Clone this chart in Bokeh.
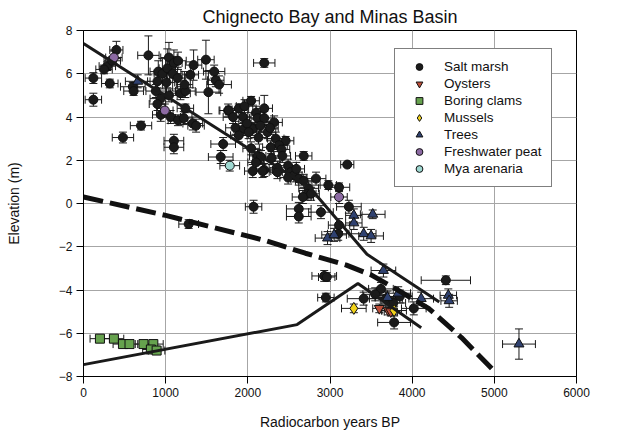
from bokeh.plotting import figure
from bokeh.models import (Whisker, ColumnDataSource, Legend, LegendItem, TeeHead,
                          FixedTicker, Range1d)
from bokeh.embed import file_html
from bokeh.resources import INLINE

# ---------------- data ----------------
# Salt marsh
sm_x = [120, 120, 320, 290, 350, 400, 250, 480, 700, 600, 610, 790, 880, 900, 910, 960, 1020,
        1040, 1085, 1100, 1145, 1150, 940, 1040, 1180, 1240, 900, 940, 1060, 1150, 1240, 1330,
        1370, 1340, 1490, 1590, 1610, 1520, 1650, 1760, 1220, 1100, 1100, 1280, 2200,
        2040, 2200, 1770, 1890, 2100, 1820, 1940, 2120, 2200, 2320, 1850, 1950, 2060, 2240,
        1890, 2130, 2340, 2460, 2380, 2280, 1700, 1670, 2040, 2120, 2160, 2100, 2060, 2200,
        2360, 2490, 2680, 2980, 2520, 2560, 2620, 2680, 2830, 2490, 2740, 2730, 2180, 2360,
        3110, 2670, 2770, 2070, 2620, 2620, 2890, 3230, 3110, 3100, 3210,
        2930, 2960, 2950, 3620, 3410, 3680, 3770, 4410, 4020, 3780, 3550, 3850,
        1990, 2010, 2150, 2270, 2410, 2290, 2420, 2590, 1960, 1230, 1010, 1300]
sm_y = [4.8, 5.8, 5.55, 6.35, 6.6, 7.1, 6.2, 3.05, 3.6, 5.4, 5.2, 6.85, 5.2, 5.65, 6.1, 6.0, 6.25,
        6.75, 6.0, 6.5, 5.8, 6.6, 4.85, 5.0, 5.1, 5.2, 4.6, 4.1, 4.0, 3.85, 4.4, 3.7,
        3.6, 6.4, 6.65, 6.1, 5.7, 5.15, 5.5, 4.3, 3.95, 2.9, 2.6, -0.95, 6.5,
        4.75, 4.4, 4.3, 4.4, 4.2, 4.0, 4.0, 3.95, 3.95, 3.75, 3.5, 3.45, 3.45, 3.3,
        3.15, 3.05, 3.0, 2.9, 2.7, 2.6, 2.75, 2.15, 2.55, 2.2, 2.15, 1.9, 1.5, 1.55,
        1.65, 1.75, 2.2, 0.85, 1.45, 1.3, 1.15, 1.05, 1.15, 1.2, 0.7, 0.45, 1.5, 1.45,
        0.75, 0.3, 0.45, -0.15, -0.25, -0.6, -0.4, -0.15, -1.0, -1.4, 1.8,
        -3.35, -3.4, -4.35, -3.95, -4.4, -4.4, -4.6, -3.55, -4.85, -5.5, -4.2, -4.3,
        3.7, 3.3, 3.6, 3.5, 2.5, 2.1, 2.2, 1.6, 4.5, 5.5, 5.6, 5.95]
sm_xerr = [100, 100, 100, 100, 100, 80, 100, 130, 130, 150, 120, 130, 120, 120, 100, 100, 100,
           100, 100, 100, 100, 100, 130, 100, 120, 120, 100, 100, 120, 120, 100, 120,
           100, 100, 100, 130, 100, 150, 150, 100, 100, 120, 120, 120, 130,
           100, 100, 120, 120, 100, 120, 100, 100, 100, 100, 120, 120, 100, 100,
           100, 100, 100, 100, 100, 100, 150, 150, 100, 100, 100, 100, 100, 100,
           100, 100, 100, 100, 100, 100, 100, 100, 120, 100, 120, 100, 100, 100,
           130, 130, 100, 100, 150, 150, 150, 150, 130, 130, 80,
           150, 100, 100, 150, 200, 200, 150, 300, 150, 200, 150, 150,
           100, 100, 100, 100, 100, 100, 100, 100, 100, 100, 100, 100]
sm_yerr = [0.3, 0.25, 0.2, 0.2, 0.2, 0.4, 0.2, 0.25, 0.2, 0.2, 0.2, 0.9, 0.3, 0.3, 0.5, 0.7, 0.9,
           0.7, 0.8, 0.6, 0.5, 0.4, 0.25, 0.3, 0.3, 0.3, 0.3, 0.3, 0.3, 0.25, 0.2, 0.3,
           0.3, 0.7, 0.9, 0.3, 0.3, 1.0, 0.4, 0.3, 0.3, 0.3, 0.3, 0.2, 0.2,
           0.2, 0.6, 0.2, 0.2, 0.3, 0.3, 0.3, 0.3, 0.3, 0.3, 0.3, 0.3, 0.3, 0.3,
           0.3, 0.3, 0.3, 0.2, 0.3, 0.3, 0.3, 0.3, 0.3, 0.3, 0.3, 0.3, 0.3, 0.3,
           0.3, 0.3, 0.2, 0.2, 0.3, 0.3, 0.3, 0.3, 0.3, 0.3, 0.3, 0.3, 0.3, 0.3,
           0.2, 0.3, 0.3, 0.3, 0.3, 0.3, 0.3, 0.3, 0.3, 0.3, 0.1,
           0.25, 0.2, 0.2, 0.3, 0.3, 0.3, 0.3, 0.2, 0.3, 0.3, 0.3, 0.3,
           0.3, 0.3, 0.3, 0.3, 0.3, 0.3, 0.3, 0.3, 0.3, 0.6, 0.5, 0.6]

# Oysters
oy_x = [3600, 3710, 3740]
oy_y = [-4.85, -4.95, -5.0]
oy_xerr = [80, 80, 80]
oy_yerr = [0.2, 0.2, 0.2]

# Boring clams
bc_x = [200, 370, 480, 560, 730, 850, 820, 890]
bc_y = [-6.25, -6.25, -6.5, -6.5, -6.5, -6.5, -6.75, -6.8]
bc_xerr = [120, 120, 120, 100, 100, 120, 100, 100]
bc_yerr = [0.15, 0.15, 0.15, 0.15, 0.15, 0.15, 0.15, 0.15]

# Mussels
mu_x = [3290, 3780]
mu_y = [-4.85, -4.95]
mu_xerr = [150, 150]
mu_yerr = [0.2, 0.2]

# Trees
tr_x = [660, 3290, 3290, 3520, 2970, 3050, 3410, 3500, 3650, 3700, 3830, 4110, 4440, 4450, 5300]
tr_y = [5.65, -0.55, -0.9, -0.5, -1.6, -1.45, -1.4, -1.5, -3.1, -4.35, -4.15, -4.4, -4.25, -4.5, -6.5]
tr_xerr = [150, 100, 100, 150, 150, 150, 150, 150, 150, 150, 150, 150, 100, 100, 200]
tr_yerr = [0.3, 0.3, 0.3, 0.2, 0.3, 0.3, 0.3, 0.3, 0.3, 0.3, 0.3, 0.3, 0.3, 0.3, 0.7]

# Freshwater peat
fp_x = [370, 990, 3110]
fp_y = [6.75, 4.3, 0.3]
fp_xerr = [100, 100, 100]
fp_yerr = [0.3, 0.3, 0.3]

# Mya arenaria
my_x = [1780]
my_y = [1.75]
my_xerr = [120]
my_yerr = [0.25]

# Curves
upper_x = [0, 2750, 3450, 4330]
upper_y = [7.4, 0.75, -2.35, -4.55]
dashed_x = [0, 1000, 2200, 2700, 3200, 3500, 3800, 4200, 4600, 5000]
dashed_y = [0.3, -0.55, -1.7, -2.3, -2.85, -3.3, -3.95, -4.85, -6.2, -7.75]
lower_x = [0, 2600, 3340, 4110]
lower_y = [-7.45, -5.6, -3.7, -5.75]

x_ticks = [0, 1000, 2000, 3000, 4000, 5000, 6000]
y_ticks = [-8, -6, -4, -2, 0, 2, 4, 6, 8]

FONT = "Liberation Sans"

# ---------------- figure ----------------
p = figure(width=630, height=432, x_range=Range1d(0, 6000), y_range=Range1d(-8, 8),
           output_backend="svg", toolbar_location=None,
           min_border_left=83, min_border_right=54, min_border_top=29, min_border_bottom=56,
           background_fill_color="white", border_fill_color="white")

p.title.text = "Chignecto Bay and Minas Basin"
p.title.align = "center"
p.title.text_font = FONT
p.title.text_font_size = "18px"
p.title.text_font_style = "normal"
p.title.text_color = "#111111"
p.title.standoff = 8

p.outline_line_color = "black"
p.outline_line_width = 1

for ax in (p.xaxis[0], p.yaxis[0]):
    ax.axis_line_color = "black"
    ax.major_tick_line_color = "black"
    ax.major_tick_out = 7
    ax.major_tick_in = 0
    ax.minor_tick_line_color = None
    ax.major_label_text_font = FONT
    ax.major_label_text_font_size = "12px"
    ax.major_label_text_color = "#111111"
    ax.axis_label_text_font = FONT
    ax.axis_label_text_font_size = "14px"
    ax.axis_label_text_font_style = "normal"
    ax.axis_label_text_color = "#111111"

p.xaxis.ticker = FixedTicker(ticks=x_ticks)
p.yaxis.ticker = FixedTicker(ticks=y_ticks)
p.xaxis.axis_label = "Radiocarbon years BP"
p.yaxis.axis_label = "Elevation (m)"
p.xaxis.major_label_standoff = 4
p.yaxis.major_label_standoff = 4
p.xaxis.axis_label_standoff = 14
p.yaxis.axis_label_standoff = 34

p.xgrid.grid_line_color = "#a6a6a6"
p.ygrid.grid_line_color = "#a6a6a6"
p.xgrid.ticker = FixedTicker(ticks=x_ticks)
p.ygrid.ticker = FixedTicker(ticks=y_ticks)

series = [
    ("Salt marsh", sm_x, sm_y, sm_xerr, sm_yerr, "circle", "#1b1b1b", 9),
    ("Oysters", oy_x, oy_y, oy_xerr, oy_yerr, "inverted_triangle", "#c0503a", 10),
    ("Boring clams", bc_x, bc_y, bc_xerr, bc_yerr, "square", "#66a24e", 9),
    ("Mussels", mu_x, mu_y, mu_xerr, mu_yerr, "diamond", "#f2d31b", 12),
    ("Trees", tr_x, tr_y, tr_xerr, tr_yerr, "triangle", "#2f4170", 10),
    ("Freshwater peat", fp_x, fp_y, fp_xerr, fp_yerr, "circle", "#8c6aa3", 9),
    ("Mya arenaria", my_x, my_y, my_xerr, my_yerr, "circle", "#9fd9d2", 9),
]

# error bars first
for name, xs, ys, xe, ye, marker, color, size in series:
    src = ColumnDataSource(dict(
        x=xs, y=ys,
        xlo=[a - b for a, b in zip(xs, xe)], xhi=[a + b for a, b in zip(xs, xe)],
        ylo=[a - b for a, b in zip(ys, ye)], yhi=[a + b for a, b in zip(ys, ye)]))
    wv = Whisker(base="x", lower="ylo", upper="yhi", dimension="height", source=src,
                 line_color="#1a1a1a", line_width=1,
                 upper_head=TeeHead(size=8, line_color="#1a1a1a", line_width=1),
                 lower_head=TeeHead(size=8, line_color="#1a1a1a", line_width=1))
    wh = Whisker(base="y", lower="xlo", upper="xhi", dimension="width", source=src,
                 line_color="#1a1a1a", line_width=1,
                 upper_head=TeeHead(size=8, line_color="#1a1a1a", line_width=1),
                 lower_head=TeeHead(size=8, line_color="#1a1a1a", line_width=1))
    p.add_layout(wv)
    p.add_layout(wh)

items = []
for name, xs, ys, xe, ye, marker, color, size in series:
    r = p.scatter(xs, ys, marker=marker, size=size, fill_color=color,
                  line_color="#111111", line_width=1)
    items.append(LegendItem(label=name, renderers=[r]))

# curves
p.line(upper_x, upper_y, line_color="#1a1a1a", line_width=3)
p.line(lower_x, lower_y, line_color="#1a1a1a", line_width=3)
p.line(dashed_x, dashed_y, line_color="#111111", line_width=5, line_dash="20 7")

legend = Legend(items=items, location=(311, 189), orientation="vertical",
                border_line_color="black", border_line_width=1,
                background_fill_color="white", background_fill_alpha=1,
                label_text_font=FONT, label_text_font_size="13.5px", label_text_color="#111111",
                glyph_width=30, glyph_height=17, label_height=17, spacing=0,
                padding=9, margin=0, label_standoff=10)
p.add_layout(legend)

open("out.html", "w").write(file_html(p, INLINE))
